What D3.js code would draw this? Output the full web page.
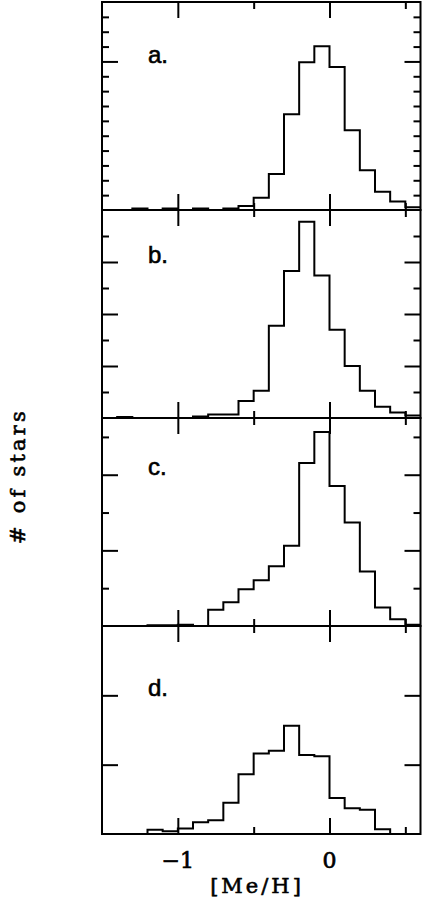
<!DOCTYPE html>
<html><head><meta charset="utf-8">
<script src="https://cdn.jsdelivr.net/npm/d3@7/dist/d3.min.js"></script>
<style>html,body{margin:0;padding:0;background:#fff}</style>
</head><body>
<svg id="chart" width="422" height="903"></svg>
<script>
// ---- data ----
const binStarts = [-1.5,-1.4,-1.3,-1.2,-1.1,-1.0,-0.9,-0.8,-0.7,-0.6,-0.5,-0.4,-0.3,-0.2,-0.1,0.0,0.1,0.2,0.3,0.4,0.5];
const binWidth = 0.1;
const countsA = [0,0,1,0,1,0,1,0,1,2.7,8.3,24.2,64.4,99.5,110.3,96.2,53.7,26.8,12.3,5.8,1.8];
const countsB = [0,0.4,0,0,0,0,0.6,1.3,1.3,6.5,10.5,35.5,56.5,75.5,54.8,33.9,20,10.5,4.3,2.1,1.0];
const countsC = [0,0,0,0.2,0.2,0.35,0,4.3,6.3,9.7,12.1,15.8,21.2,43.1,51.3,37,27.4,14.4,4.9,1.8,0.35];
const countsD = [0,0,0,0.6,0.4,0.8,1.7,2.0,4.5,8.6,11.6,12.0,15.6,11.4,11.2,5.2,3.7,3.5,0.7,0,0];
const panelNames = ["a.","b.","c.","d."];
const yMaxes = [140,80,55,30];
const yMinorTicks = [[10,20,30,40,50,60,70,80,90,110,120,130],[10,30,50,70],[10,30,50],[]];
const yMajorTicks = [[100],[20,40,60],[20,40],[10,20]];
const xMajorTicks = [-1,0];
const xMinorTicks = [-0.5,0.5];
const xTickLabels = ["\u22121","0"];
const xDomain = [-1.5,0.6];
const xLabel = "[Me/H]";
const yLabel = "# of stars";

// ---- layout ----
const L = 102, R = 420.5, T0 = 2, PH = 208;
const labelOffsets = [61, 53, 57, 70];
const svg = d3.select("#chart");
const x = d3.scaleLinear().domain(xDomain).range([L, R]);
const allCounts = [countsA, countsB, countsC, countsD];

allCounts.forEach((counts, i) => {
  const top = T0 + i*PH, bot = top + PH;
  const y = d3.scaleLinear().domain([0, yMaxes[i]]).range([bot, top]);
  const g = svg.append("g");
  const pts = binStarts.map((s,k)=>[s, counts[k]]);
  pts.push([binStarts[binStarts.length-1]+binWidth, counts[counts.length-1]]);
  const line = d3.line().x(d=>x(d[0])).y(d=>y(d[1])).curve(d3.curveStepAfter);
  g.append("path").attr("d", line(pts)).attr("fill","none").attr("stroke","#000").attr("stroke-width",2);

  const axes = [
    [d3.axisBottom(x).tickValues(xMajorTicks).tickSize(-16), `translate(0,${bot})`],
    [d3.axisBottom(x).tickValues(xMinorTicks).tickSize(-7), `translate(0,${bot})`],
    [d3.axisTop(x).tickValues(xMajorTicks).tickSize(-16), `translate(0,${top})`],
    [d3.axisTop(x).tickValues(xMinorTicks).tickSize(-7), `translate(0,${top})`],
    [d3.axisLeft(y).tickValues(yMajorTicks[i]).tickSize(-16), `translate(${L},0)`],
    [d3.axisLeft(y).tickValues(yMinorTicks[i]).tickSize(-7), `translate(${L},0)`],
    [d3.axisRight(y).tickValues(yMajorTicks[i]).tickSize(-16), `translate(${R},0)`],
    [d3.axisRight(y).tickValues(yMinorTicks[i]).tickSize(-7), `translate(${R},0)`]
  ];
  axes.forEach(([ax, tr]) => {
    const a = g.append("g").attr("transform", tr).call(ax);
    a.select(".domain").remove();
    a.selectAll("text").remove();
    a.selectAll("line").attr("stroke","#000").attr("stroke-width",2);
  });
  g.append("rect").attr("x",L).attr("y",top).attr("width",R-L).attr("height",PH)
    .attr("fill","none").attr("stroke","#000").attr("stroke-width",2);
  g.append("text").attr("x",148).attr("y",top+labelOffsets[i])
    .attr("font-family","'Liberation Sans', Arial, sans-serif").attr("font-size",24)
    .attr("stroke","#000").attr("stroke-width",0.6)
    .text(panelNames[i]);
});

const bottom = T0 + 4*PH;
svg.selectAll(".xtl").data(xMajorTicks).enter().append("text")
  .attr("x", d=>x(d)).attr("y", bottom+34).attr("text-anchor","middle")
  .attr("font-family","'DejaVu Serif', serif").attr("font-size",22)
  .attr("stroke","#000").attr("stroke-width",0.7)
  .text((d,k)=>xTickLabels[k]);
svg.append("text").attr("x",257).attr("y",893).attr("text-anchor","middle")
  .attr("font-family","'DejaVu Serif', serif").attr("font-size",21).attr("letter-spacing",3)
  .attr("stroke","#000").attr("stroke-width",0.6)
  .text(xLabel);
svg.append("text").attr("transform","translate(25,476) rotate(-90)").attr("text-anchor","middle")
  .attr("font-family","'DejaVu Serif', serif").attr("font-size",21).attr("letter-spacing",3.2)
  .attr("stroke","#000").attr("stroke-width",0.6)
  .text(yLabel);
</script>
</body></html>
